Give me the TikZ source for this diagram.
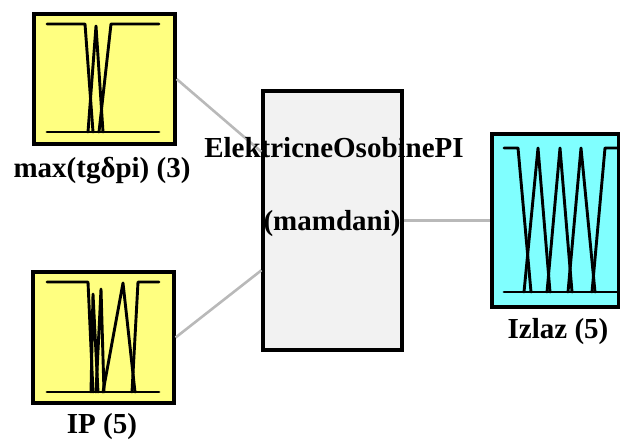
\documentclass[tikz,border=0pt]{standalone}
\usepackage{fontspec}
\setmainfont{Liberation Serif}
\definecolor{inyellow}{RGB}{255,255,128}
\definecolor{outcyan}{RGB}{128,255,255}
\definecolor{sysgray}{RGB}{242,242,242}
\definecolor{linkgray}{RGB}{185,185,185}
\begin{document}
\begin{tikzpicture}[x=1pt,y=-1pt,
  varbox/.style={draw=black,line width=3.2pt,minimum width=#1,inner sep=0pt},
  lbl/.style={anchor=base,font=\fontsize{29}{31}\selectfont\bfseries,inner sep=0pt},
  mf/.style={line width=2.9pt,line join=round,line cap=round},
  link/.style={draw=linkgray,line width=2.6pt}]
\useasboundingbox (0,0) rectangle (620,441);
% boxes
\node[varbox=141pt,fill=inyellow,minimum height=130pt] (in1) at (104.5,79) {};
\node[varbox=141pt,fill=inyellow,minimum height=131pt] (in2) at (103.5,337.5) {};
\node[varbox=139pt,fill=sysgray,minimum height=259pt] (sys) at (332.5,220.5) {};
\node[varbox=127pt,fill=outcyan,minimum height=173pt] (out) at (555.5,220.5) {};
% connectors
\draw[link] (in1.east) -- (sys.136);
\draw[link] (in2.east) -- (sys.215);
\draw[link] (sys.east) -- (out.west);
% MFs input 1
\draw[mf] (47,132) -- (159,132);
\draw[mf] (47,24) -- (85,24) -- (93,132);
\draw[mf] (88,132) -- (96,26) -- (103,132);
\draw[mf] (99,132) -- (111,24) -- (159,24);
% MFs input 2
\draw[mf] (47,392) -- (159,392);
\draw[mf] (47,282) -- (88,282) -- (93,392);
\draw[mf] (91,392) -- (93,294) -- (98,392);
\draw[mf] (96,392) -- (101,289) -- (104,392);
\draw[mf] (103,392) -- (123,283) -- (135,392);
\draw[mf] (132,392) -- (138,282) -- (159,282);
% MFs output
\draw[mf] (504,292) -- (617,292);
\draw[mf] (504,148) -- (518,148) -- (531,292);
\draw[mf] (524,292) -- (538,148) -- (550,292);
\draw[mf] (547,292) -- (560,148) -- (572,292);
\draw[mf] (568,292) -- (581,148) -- (595,292);
\draw[mf] (592,292) -- (605,148) -- (617,148);
% labels
\node[lbl] (l1) at (102,177) {max(tgδpi) (3)};
\node[lbl] (l2) at (102,433) {IP (5)};
\node[lbl] (l3) at (334,157) {ElektricneOsobinePI};
\node[lbl] (l4) at (332,230) {(mamdani)};
\node[lbl] (l5) at (558,338) {Izlaz (5)};
\end{tikzpicture}
\end{document}
